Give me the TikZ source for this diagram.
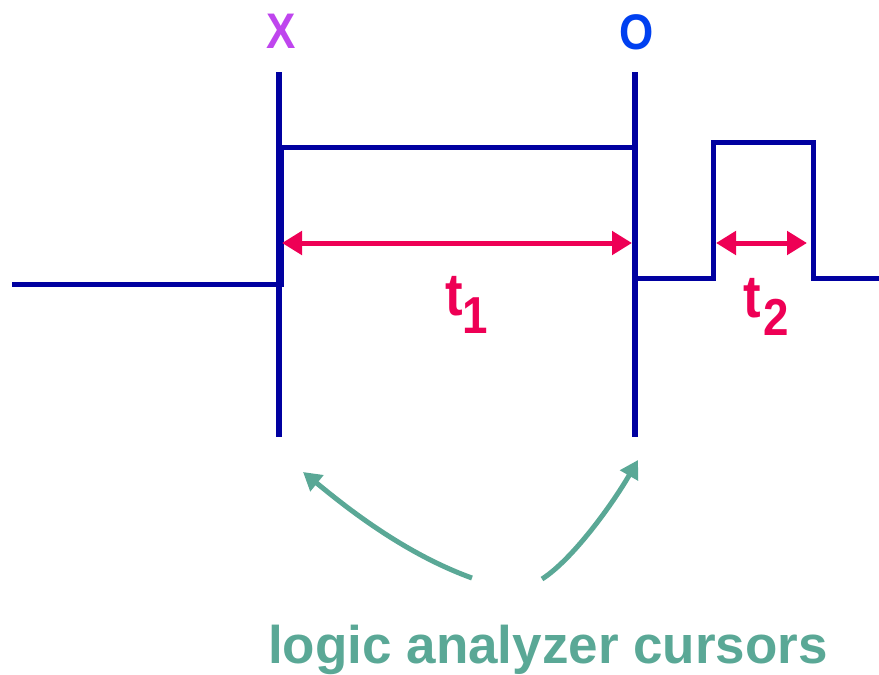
\documentclass[tikz,border=0pt]{standalone}
\usepackage{fontspec}
\setmainfont{Liberation Sans}
\usetikzlibrary{arrows.meta}
\definecolor{sig}{HTML}{0000A0}
\definecolor{tred}{HTML}{EE0055}
\definecolor{cgreen}{HTML}{5AA896}
\definecolor{xpurple}{HTML}{BF45EE}
\definecolor{oblue}{HTML}{0040F0}
\tikzset{
  signal/.style={draw=sig, line width=5pt, line join=miter},
  cursorline/.style={draw=sig, line width=6pt},
  timearrow/.style={draw=tred, line width=5pt, {Triangle[length=20pt,width=23pt]}-{Triangle[length=20pt,width=23pt]}},
  pointer/.style={draw=cgreen, line width=5pt, -{Triangle[length=18pt,width=20pt]}},
  lbl/.style={inner sep=0pt, font=\bfseries},
}
\begin{document}
\begin{tikzpicture}[x=1pt,y=-1pt]
\useasboundingbox (0,0) rectangle (879,675);
% cursor coordinates
\coordinate (xtop) at (279,72);
\coordinate (xbot) at (279,437);
\coordinate (otop) at (635,72);
\coordinate (obot) at (635,437);
% waveform
\draw[signal] (12,284) -- (281,284) -- (281,147) -- (635,147) -- (635,278)
  -- (713,278) -- (713,142) -- (813,142) -- (813,278) -- (879,278);
% cursors
\draw[cursorline] (xtop) -- (xbot);
\draw[cursorline] (otop) -- (obot);
% cursor labels
\node[lbl, anchor=base, text=xpurple] (xlab) at (281.5,48) {\fontsize{50}{50}\selectfont\scalebox{0.88}[1]{X}};
\node[lbl, anchor=base, text=oblue] (olab) at (637,49) {\fontsize{50}{50}\selectfont\scalebox{0.88}[1]{O}};
% time arrows
\coordinate (a1) at (282,243);
\coordinate (b1) at (632,243);
\coordinate (a2) at (716,243);
\coordinate (b2) at (807,243);
\draw[timearrow] (a1) -- (b1);
\draw[timearrow] (a2) -- (b2);
\node[lbl, anchor=base west, text=tred] (t1) at (445,315)
  {\scalebox{0.88}[1]{\fontsize{60}{60}\selectfont t\raisebox{-18pt}{\fontsize{52}{52}\selectfont 1}}};
\node[lbl, anchor=base west, text=tred] (t2) at (743,317)
  {\scalebox{0.88}[1]{\fontsize{60}{60}\selectfont t\kern3pt\raisebox{-18pt}{\fontsize{52}{52}\selectfont 2}}};
% caption and pointers
\node[lbl, anchor=base, text=cgreen] (cap) at (548,663) {\fontsize{53}{53}\selectfont logic analyzer cursors};
\coordinate (p1s) at (472,578);
\coordinate (p1e) at (303,472);
\coordinate (p2s) at (542,579);
\coordinate (p2e) at (638,460);
\draw[pointer] (p1s) .. controls (400,552) and (340,502) .. (p1e);
\draw[pointer] (p2s) .. controls (572,560) and (612,505) .. (p2e);
\end{tikzpicture}
\end{document}
